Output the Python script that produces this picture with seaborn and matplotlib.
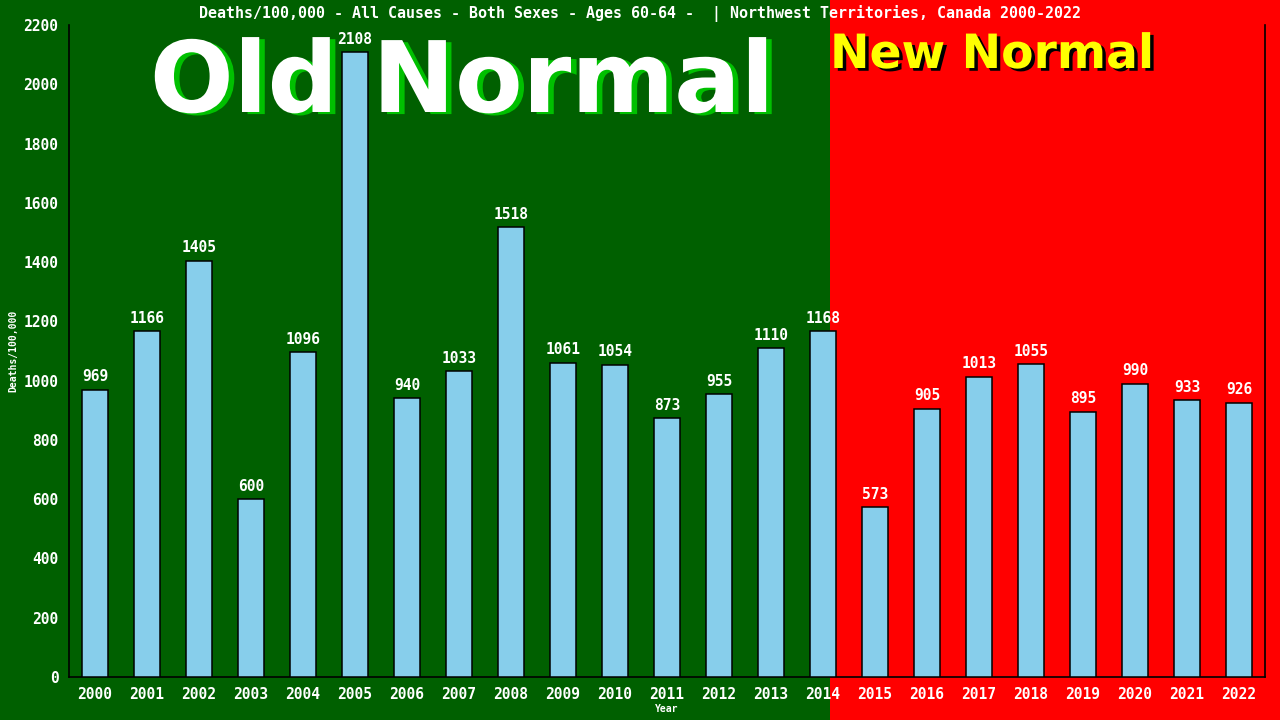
import pandas as pd
import matplotlib
matplotlib.use("Agg")
import matplotlib.pyplot as plt
import matplotlib.patheffects as pe
from matplotlib.patches import Rectangle
import seaborn as sns

# data
years = [str(y) for y in range(2000, 2023)]
deaths = [969, 1166, 1405, 600, 1096, 2108, 940, 1033, 1518, 1061, 1054, 873,
          955, 1110, 1168, 573, 905, 1013, 1055, 895, 990, 933, 926]
y_ticks = list(range(0, 2201, 200))
title = "Deaths/100,000 - All Causes - Both Sexes - Ages 60-64 -  | Northwest Territories, Canada 2000-2022"

df = pd.DataFrame({"Year": years, "Deaths": deaths})

sns.set_style("white")
plt.rcParams["font.family"] = ["DejaVu Sans Mono", "DejaVu Sans"]

GREEN = "#006000"
RED = "#ff0000"
MONO = "DejaVu Sans Mono"

fig = plt.figure(figsize=(12.8, 7.2), dpi=100, facecolor=GREEN)
# red "new normal" half of the background
fig.patches.append(Rectangle((830 / 1280, 0), 1 - 830 / 1280, 1,
                             transform=fig.transFigure, facecolor=RED,
                             edgecolor="none", zorder=-2))

ax = fig.add_axes([69 / 1280, 43 / 720, 1196 / 1280, 652 / 720])
ax.set_facecolor("none")
ax.set_zorder(1)

sns.barplot(data=df, x="Year", y="Deaths", color="#87CEEB", saturation=1,
            width=0.5, edgecolor="black", linewidth=1.1, ax=ax, zorder=3)

for i, v in enumerate(deaths):
    ax.annotate(str(v), (i, v), xytext=(0, 6), textcoords="offset points",
                ha="center", va="baseline", color="white", fontsize=10.5,
                fontweight="bold", family=MONO, zorder=4)

ax.set_xlim(-0.5, len(years) - 0.5)
ax.set_ylim(0, 2200)
ax.set_yticks(y_ticks)

ax.tick_params(axis="y", direction="inout", length=7, width=1, color="black",
               labelcolor="white", labelsize=10.5, pad=4)
ax.tick_params(axis="x", length=0, labelcolor="white", labelsize=10.5, pad=7)
for lab in ax.get_xticklabels() + ax.get_yticklabels():
    lab.set_family(MONO)
    lab.set_fontweight("bold")

for side in ["left", "bottom", "right"]:
    ax.spines[side].set_color("black")
    ax.spines[side].set_linewidth(1.2)
ax.spines["top"].set_visible(False)

ax.set_xlabel("Year", color="white", fontsize=7, fontweight="bold", family=MONO, labelpad=2)
ax.set_ylabel("Deaths/100,000", color="white", fontsize=7, fontweight="bold", family=MONO, labelpad=4)

fig.text(0.5, 1 - 18 / 720, title, ha="center", va="baseline", color="white",
         fontsize=10.8, fontweight="bold", family=MONO)

fig.text(462 / 1280, 1 - 112 / 720, "Old Normal", ha="center", va="baseline",
         color="white", fontsize=71, fontweight="bold", family="DejaVu Sans",
         path_effects=[pe.withSimplePatchShadow(offset=(4, -1.5), shadow_rgbFace="#00c000", alpha=1)],
         zorder=0)

fig.text(830 / 1280, 1 - 68 / 720, "New Normal", ha="left", va="baseline",
         color="#ffff00", fontsize=34, fontweight="bold", family="DejaVu Sans",
         path_effects=[pe.withSimplePatchShadow(offset=(2.5, -2), shadow_rgbFace="black", alpha=1)],
         zorder=0)

fig.savefig("out.png", dpi=100, facecolor=GREEN)
